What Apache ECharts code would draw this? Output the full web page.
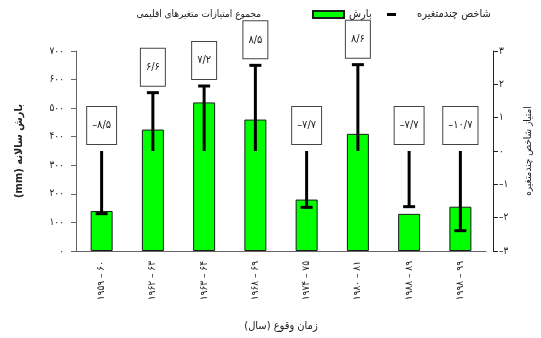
<!DOCTYPE html>
<html>
<head>
<meta charset="utf-8">
<script src="https://cdn.jsdelivr.net/npm/echarts@6/dist/echarts.min.js"></script>
<style>
  html, body { margin: 0; padding: 0; background: #fff; }
  #chart { width: 541px; height: 338px; }
</style>
</head>
<body>
<div id="chart"></div>
<script>
// Drought periods (water years)
const periods = ['۱۹۵۹ – ۶۰', '۱۹۶۲ – ۶۳', '۱۹۶۳ – ۶۴', '۱۹۶۸ – ۶۹', '۱۹۷۴ – ۷۵', '۱۹۸۰ – ۸۱', '۱۹۸۸ – ۸۹', '۱۹۹۸ – ۹۹'];
// Annual precipitation (mm)
const rainfall = [140, 425, 520, 460, 180, 410, 130, 155];
// Multivariate index score
const multiIndex = [-1.88, 1.75, 1.95, 2.57, -1.69, 2.59, -1.67, -2.39];
// Sum of climate-variable scores (shown in the boxes)
const scoreSum = [-8.5, 6.6, 7.2, 8.5, -7.7, 8.6, -7.7, -10.7];

const leftTicks = { min: 0, max: 700, step: 100 };
const rightTicks = { min: -3, max: 3, step: 1 };

const FONT = '"DejaVu Sans Condensed", "DejaVu Sans"';
const fa = s => String(s).replace(/\d/g, d => '۰۱۲۳۴۵۶۷۸۹'[d]);
const signed = v => (v < 0 ? '–' : '') + fa(Math.abs(v));
const scoreText = v => (v < 0 ? '–' : '') + fa(Math.abs(v).toFixed(1)).replace('.', '/');

const NAME_INDEX = 'شاخص چندمتغیره';
const NAME_RAIN = 'بارش';
const NAME_SCORE = 'مجموع امتیازات متغیرهای اقلیمی';

const chart = echarts.init(document.getElementById('chart'), null, { renderer: 'canvas' });

chart.setOption({
  animation: false,
  backgroundColor: '#fff',
  textStyle: { fontFamily: FONT, color: '#222' },
  grid: { left: 76, right: 53, top: 51, bottom: 87 },
  legend: [
    {
      data: [{ name: NAME_INDEX, icon: 'rect' }],
      left: 387, top: 9, padding: 0,
      itemWidth: 9, itemHeight: 3,
      textStyle: { fontFamily: FONT, fontSize: 11, color: '#222', padding: [0, 0, 0, 16] }
    },
    {
      data: [{ name: NAME_RAIN, icon: 'rect' }],
      left: 312, top: 9, padding: 0,
      itemWidth: 31, itemHeight: 7,
      textStyle: { fontFamily: FONT, fontSize: 11, color: '#222' }
    },
    {
      data: [{ name: NAME_SCORE, icon: 'none' }],
      right: 280, top: 9, padding: 0,
      itemWidth: 2, itemHeight: 2,
      textStyle: { fontFamily: FONT, fontSize: 10, color: '#222' }
    }
  ],
  xAxis: {
    type: 'category',
    data: periods,
    boundaryGap: true,
    axisLine: { show: true, lineStyle: { color: '#666', width: 1 } },
    axisTick: { show: false },
    axisLabel: { rotate: 90, margin: 10, fontSize: 10, color: '#222', fontFamily: FONT },
    name: '\u200Fزمان وقوع (سال)\u200F',
    nameLocation: 'middle',
    nameGap: 70,
    nameTextStyle: { fontFamily: FONT, fontSize: 11, color: '#222' }
  },
  yAxis: [
    {
      type: 'value',
      position: 'left',
      min: leftTicks.min, max: leftTicks.max, interval: leftTicks.step,
      axisLine: { show: true, lineStyle: { color: '#666', width: 1 } },
      axisTick: { show: true, length: 5, lineStyle: { color: '#666' } },
      splitLine: { show: false },
      axisLabel: { margin: 12, fontSize: 10, color: '#222', fontFamily: FONT, formatter: v => fa(v) },
      name: '(mm) بارش سالانه',
      nameLocation: 'middle',
      nameRotate: 90,
      nameGap: 51,
      nameTextStyle: { fontFamily: FONT, fontSize: 11, fontWeight: 'bold', color: '#222' }
    },
    {
      type: 'value',
      position: 'right',
      offset: 7,
      min: rightTicks.min, max: rightTicks.max, interval: rightTicks.step,
      axisLine: { show: true, onZero: false, lineStyle: { color: '#222', width: 1 } },
      axisTick: { show: true, length: 5, lineStyle: { color: '#222' } },
      splitLine: { show: false },
      axisLabel: { margin: 6, fontSize: 10, color: '#222', fontFamily: FONT, formatter: v => signed(v) },
      name: 'امتیاز شاخص چندمتغیره',
      nameLocation: 'middle',
      nameRotate: 90,
      nameGap: 30,
      nameTextStyle: { fontFamily: FONT, fontSize: 10, color: '#222' }
    }
  ],
  series: [
    {
      name: NAME_RAIN,
      type: 'bar',
      yAxisIndex: 0,
      barWidth: 22,
      data: rainfall,
      itemStyle: { color: '#00ff00', borderColor: '#1a1a1a', borderWidth: 1 },
      z: 2
    },
    {
      name: NAME_INDEX,
      type: 'custom',
      yAxisIndex: 1,
      data: multiIndex.map((v, i) => [i, v]),
      encode: { x: 0, y: 1 },
      itemStyle: { color: '#000' },
      z: 3,
      renderItem: function (params, api) {
        const i = api.value(0), v = api.value(1);
        const p0 = api.coord([i, 0]);
        const p1 = api.coord([i, v]);
        return {
          type: 'group',
          children: [
            { type: 'line', shape: { x1: p0[0], y1: p0[1], x2: p1[0], y2: p1[1] }, style: { stroke: '#000', lineWidth: 3 } },
            { type: 'line', shape: { x1: p1[0] - 6, y1: p1[1], x2: p1[0] + 6, y2: p1[1] }, style: { stroke: '#000', lineWidth: 3 } }
          ]
        };
      }
    },
    {
      name: NAME_SCORE,
      type: 'custom',
      yAxisIndex: 1,
      data: scoreSum.map((v, i) => [i, v]),
      encode: { x: 0, y: 1 },
      itemStyle: { color: '#fff' },
      z: 4,
      renderItem: function (params, api) {
        const i = api.value(0), s = api.value(1);
        const p = api.coord([i, Math.max(0, multiIndex[i])]);
        return {
          type: 'text',
          x: p[0],
          y: p[1] - 7,
          style: {
            text: scoreText(s),
            align: 'center',
            verticalAlign: 'bottom',
            fill: '#222',
            font: '11px "DejaVu Sans Condensed", "DejaVu Sans"',
            backgroundColor: '#fff',
            borderColor: '#444',
            borderWidth: 1,
            padding: [13, 5]
          }
        };
      }
    }
  ]
});
</script>
</body>
</html>
